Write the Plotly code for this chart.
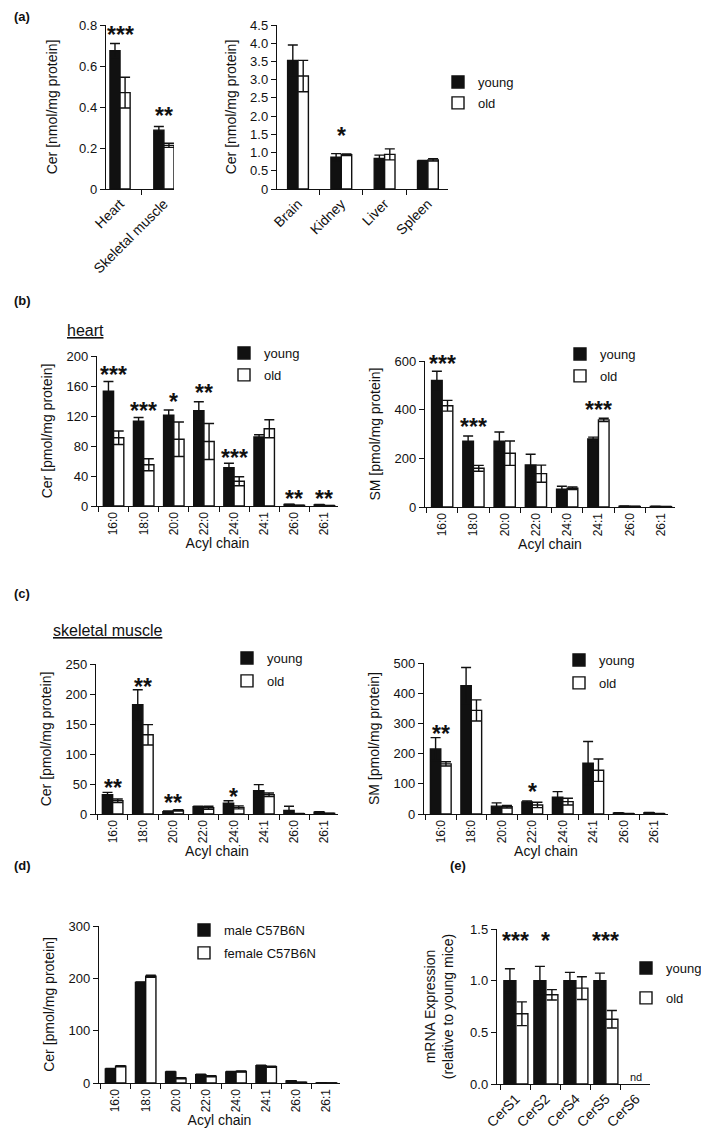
import plotly.graph_objects as go

# ---------------- data ----------------
organs_a1 = ["Heart", "Skeletal muscle"]
a1_young = [0.675, 0.287]
a1_young_err = [0.035, 0.018]
a1_old = [0.47, 0.213]
a1_old_err = [0.075, 0.010]
a1_star_text = ["***", "**"]
a1_star_y = [0.762, 0.364]
a1_yticks = [0, 0.2, 0.4, 0.6, 0.8]
a1_yticktext = ["0", "0.2", "0.4", "0.6", "0.8"]

organs_a2 = ["Brain", "Kidney", "Liver", "Spleen"]
a2_young = [3.53, 0.87, 0.84, 0.77]
a2_young_err = [0.42, 0.10, 0.09, 0.01]
a2_old = [3.10, 0.94, 0.95, 0.80]
a2_old_err = [0.43, 0.02, 0.15, 0.03]
a2_star_text = ["", "*", "", ""]
a2_star_y = [None, 1.50, None, None]
a2_yticks = [0, 0.5, 1.0, 1.5, 2.0, 2.5, 3.0, 3.5, 4.0, 4.5]
a2_yticktext = ["0", "0.5", "1.0", "1.5", "2.0", "2.5", "3.0", "3.5", "4.0", "4.5"]

acyl = ["16:0", "18:0", "20:0", "22:0", "24:0", "24:1", "26:0", "26:1"]

b1_young = [153, 113, 121, 127, 51, 92, 2, 1.5]
b1_young_err = [13, 5, 7, 12, 6, 3, 0.5, 0.5]
b1_old = [91, 55, 89, 86, 33, 103, 0.8, 0.5]
b1_old_err = [9, 8, 23, 24, 6, 12, 0.3, 0.2]
b1_star_text = ["***", "***", "*", "**", "***", "", "**", "**"]
b1_star_y = [177, 129, 141, 153, 67, None, 12, 12]
b1_yticks = [0, 40, 80, 120, 160, 200]

b2_young = [520, 270, 270, 173, 73, 280, 3, 2]
b2_young_err = [38, 22, 38, 44, 12, 7, 1, 1]
b2_old = [416, 159, 221, 137, 77, 358, 2, 1.5]
b2_old_err = [22, 12, 50, 35, 5, 7, 1, 0.5]
b2_star_text = ["***", "***", "", "", "", "***", "", ""]
b2_star_y = [596, 337, None, None, None, 407, None, None]
b2_yticks = [0, 200, 400, 600]

c1_young = [32, 182, 4, 12, 18, 39, 6, 3]
c1_young_err = [4, 25, 1, 1, 4, 10, 7, 1]
c1_old = [22, 132, 6, 10.5, 11, 32, 0.5, 1]
c1_old_err = [3, 17, 1, 2.5, 2.5, 3, 0.3, 0.3]
c1_star_text = ["**", "**", "**", "", "*", "", "", ""]
c1_star_y = [47, 215, 21, None, 32, None, None, None]
c1_yticks = [0, 50, 100, 150, 200, 250]

c2_young = [215, 425, 26, 40, 56, 168, 3, 4]
c2_young_err = [38, 60, 11, 3, 18, 72, 1, 1]
c2_old = [166, 343, 24, 30, 41, 145, 1, 1]
c2_old_err = [7, 35, 4, 9, 11, 37, 0.5, 0.5]
c2_star_text = ["**", "*", "", "*", "", "", "", ""]
c2_star_y = [273, 517, None, 80, None, None, None, None]
c2_yticks = [0, 100, 200, 300, 400, 500]

d_male = [27, 192, 21, 16, 21, 33, 4, 0.3]
d_male_err = [1, 1, 1, 1, 1, 1, 0.5, 0.1]
d_female = [32, 204, 9, 13, 22, 31, 1.3, 0.2]
d_female_err = [1, 2, 1, 1, 1, 1, 0.3, 0.1]
d_yticks = [0, 100, 200, 300]

cers = ["CerS1", "CerS2", "CerS4", "CerS5", "CerS6"]
e_young = [1.0, 1.0, 1.0, 1.0, None]
e_young_err = [0.115, 0.138, 0.08, 0.073, None]
e_old = [0.68, 0.863, 0.928, 0.627, None]
e_old_err = [0.115, 0.05, 0.11, 0.085, None]
e_star_text = ["***", "*", "", "***", ""]
e_star_y = [1.406, 1.406, None, 1.406, None]
e_nd_text = ["", "", "", "", "nd"]
e_nd_y = [None, None, None, None, 0.07]
e_yticks = [0, 0.5, 1.0, 1.5]
e_yticktext = ["0.0", "0.5", "1.0", "1.5"]

# ---------------- layout helpers ----------------
W, H = 709, 1128
FONT = "Liberation Sans, Arial, Helvetica, sans-serif"
INK = "#111111"


def xd(a, b):
    return [a / W, b / W]


def yd(top, bottom):
    return [1 - bottom / H, 1 - top / H]


fig = go.Figure()

err_style = dict(type="data", color=INK, thickness=1.4, width=5)


def add_pair(xcats, y1, e1, y2, e2, n1, n2, xa, ya, w, legend, showlegend):
    fig.add_trace(go.Bar(
        x=xcats, y=y1, name=n1, xaxis=xa, yaxis=ya,
        width=w, offset=-w,
        marker=dict(color=INK, line=dict(color=INK, width=1.4)),
        error_y=dict(array=e1, symmetric=True, **err_style),
        legend=legend, showlegend=showlegend, legendgroup=legend + "a",
    ))
    fig.add_trace(go.Bar(
        x=xcats, y=y2, name=n2, xaxis=xa, yaxis=ya,
        width=w, offset=0,
        marker=dict(color="white", line=dict(color=INK, width=1.4)),
        error_y=dict(array=e2, symmetric=True, **err_style),
        legend=legend, showlegend=showlegend, legendgroup=legend + "b",
    ))


add_pair(organs_a1, a1_young, a1_young_err, a1_old, a1_old_err, "young", "old", "x", "y", 0.23, "legend", False)
add_pair(organs_a2, a2_young, a2_young_err, a2_old, a2_old_err, "young", "old", "x2", "y2", 0.24, "legend", True)
add_pair(acyl, b1_young, b1_young_err, b1_old, b1_old_err, "young", "old", "x3", "y3", 0.34, "legend2", True)
add_pair(acyl, b2_young, b2_young_err, b2_old, b2_old_err, "young", "old", "x4", "y4", 0.34, "legend3", True)
add_pair(acyl, c1_young, c1_young_err, c1_old, c1_old_err, "young", "old", "x5", "y5", 0.34, "legend4", True)
add_pair(acyl, c2_young, c2_young_err, c2_old, c2_old_err, "young", "old", "x6", "y6", 0.34, "legend5", True)
add_pair(acyl, d_male, d_male_err, d_female, d_female_err, "male C57B6N", "female C57B6N", "x7", "y7", 0.34, "legend6", True)
add_pair(cers, e_young, e_young_err, e_old, e_old_err, "young", "old", "x8", "y8", 0.4, "legend7", True)

tickfont = dict(family=FONT, size=13, color=INK)
titlefont = dict(family=FONT, size=14, color=INK)


def yaxis(dom, rng, tv, tt, title, anchor, standoff=10):
    return dict(domain=dom, range=rng, tickvals=tv, ticktext=tt, anchor=anchor,
                showline=True, linecolor=INK, linewidth=1.4, ticks="outside",
                ticklen=5, tickwidth=1.4, tickcolor=INK, showgrid=False,
                zeroline=False, tickfont=tickfont, automargin=False,
                title=dict(text=title, font=titlefont, standoff=standoff), fixedrange=True)


def xaxis(dom, rng, cats, title, anchor, angle, fs=12, standoff=2):
    return dict(domain=dom, range=rng, type="category", categoryarray=cats,
                categoryorder="array", anchor=anchor, automargin=False,
                showline=True, linecolor=INK, linewidth=1.4, ticks="outside",
                tickson="boundaries", ticklen=5, tickwidth=1.4, tickcolor=INK,
                showgrid=False, zeroline=False, tickangle=angle,
                tickfont=dict(family=FONT, size=fs, color=INK),
                title=dict(text=title, font=titlefont, standoff=standoff), fixedrange=True)


layout = dict(
    width=W, height=H, margin=dict(l=0, r=0, t=0, b=0, autoexpand=False),
    paper_bgcolor="white", plot_bgcolor="white",
    barmode="overlay", showlegend=True,
    font=dict(family=FONT, color=INK),
)

layout["xaxis"] = xaxis(xd(98, 166), [-0.32, 1.23], organs_a1, "", "y", -45, 14)
layout["yaxis"] = yaxis(yd(17, 181), [0, 0.8], a1_yticks, a1_yticktext, "Cer [nmol/mg protein]", "x", 18)
layout["xaxis2"] = xaxis(xd(269, 440), [-0.485, 3.464], organs_a2, "", "y2", -45, 14)
layout["yaxis2"] = yaxis(yd(17, 181), [0, 4.5], a2_yticks, a2_yticktext, "Cer [nmol/mg protein]", "x2")
layout["xaxis3"] = xaxis(xd(89, 330), [-0.55, 7.45], acyl, "Acyl chain", "y3", -90)
layout["yaxis3"] = yaxis(yd(348, 498), [0, 200], b1_yticks, [str(v) for v in b1_yticks], "Cer [pmol/mg protein]", "x3")
layout["xaxis4"] = xaxis(xd(417, 667), [-0.55, 7.45], acyl, "Acyl chain", "y4", -90)
layout["yaxis4"] = yaxis(yd(353, 499), [0, 600], b2_yticks, [str(v) for v in b2_yticks], "SM [pmol/mg protein]", "x4")
layout["xaxis5"] = xaxis(xd(88, 330), [-0.55, 7.45], acyl, "Acyl chain", "y5", -90)
layout["yaxis5"] = yaxis(yd(656, 806), [0, 250], c1_yticks, [str(v) for v in c1_yticks], "Cer [pmol/mg protein]", "x5")
layout["xaxis6"] = xaxis(xd(416, 660), [-0.55, 7.45], acyl, "Acyl chain", "y6", -90)
layout["yaxis6"] = yaxis(yd(655, 806), [0, 500], c2_yticks, [str(v) for v in c2_yticks], "SM [pmol/mg protein]", "x6")
layout["xaxis7"] = xaxis(xd(91, 332), [-0.55, 7.45], acyl, "Acyl chain", "y7", -90, 12, 0)
layout["yaxis7"] = yaxis(yd(918, 1075), [0, 300], d_yticks, [str(v) for v in d_yticks], "Cer [pmol/mg protein]", "x7")
layout["xaxis8"] = xaxis(xd(489, 642), [-0.63, 4.47], cers, "", "y8", -45, 14)
layout["yaxis8"] = yaxis(yd(921, 1076), [0, 1.5], e_yticks, e_yticktext, "mRNA Expression<br>(relative to young mice)", "x8", 13)

legfont = dict(family=FONT, size=13, color=INK)


def leg(sq_left, center_top, gap, dx=27):
    return dict(x=(sq_left - dx) / W, y=1 - (center_top - 23) / H, xanchor="left", yanchor="top",
                font=legfont, bgcolor="rgba(0,0,0,0)", borderwidth=0,
                tracegroupgap=gap, traceorder="grouped", itemclick=False, itemdoubleclick=False)


layout["legend"] = leg(457, 82, 1)
layout["legend2"] = leg(243, 353, 2)
layout["legend3"] = leg(579, 354, 2)
layout["legend4"] = leg(246, 658, 3)
layout["legend5"] = leg(578, 660, 3)
layout["legend6"] = leg(203, 930, 3)
layout["legend7"] = leg(652, 968, 10, 34)

fig.update_layout(**layout)

# significance stars
star_font = dict(family=FONT, size=23, color=INK)
star_sets = [
    (organs_a1, a1_star_text, a1_star_y, "x", "y"),
    (organs_a2, a2_star_text, a2_star_y, "x2", "y2"),
    (acyl, b1_star_text, b1_star_y, "x3", "y3"),
    (acyl, b2_star_text, b2_star_y, "x4", "y4"),
    (acyl, c1_star_text, c1_star_y, "x5", "y5"),
    (acyl, c2_star_text, c2_star_y, "x6", "y6"),
    (cers, e_star_text, e_star_y, "x8", "y8"),
]
for cats, texts, ys, xr, yr in star_sets:
    for c, t, yv in zip(cats, texts, ys):
        if t:
            fig.add_annotation(x=c, y=yv, xref=xr, yref=yr, text="<b>" + t + "</b>", showarrow=False,
                               font=star_font, yanchor="middle", yshift=-2)

for c, t, yv in zip(cers, e_nd_text, e_nd_y):
    if t:
        fig.add_annotation(x=c, y=yv, xref="x8", yref="y8", text=t, showarrow=False,
                           font=dict(family=FONT, size=11, color=INK), yanchor="middle")

# panel labels
lab_font = dict(family=FONT, size=13, color=INK)
for txt, px, py in [("(a)", 4, 8), ("(b)", 4, 293), ("(c)", 4, 585), ("(d)", 4, 857), ("(e)", 440, 857)]:
    fig.add_annotation(x=px / W, y=1 - py / H, xref="paper", yref="paper", text="<b>" + txt + "</b>",
                       showarrow=False, xanchor="left", yanchor="middle", font=lab_font)

sec_font = dict(family=FONT, size=16, color=INK)
for txt, px, py in [("heart", 57, 323), ("skeletal muscle", 43, 622)]:
    fig.add_annotation(x=px / W, y=1 - py / H, xref="paper", yref="paper",
                       text="<span style='text-decoration:underline'>" + txt + "</span>",
                       showarrow=False, xanchor="left", yanchor="middle", font=sec_font)

fig.write_html("out.html")
